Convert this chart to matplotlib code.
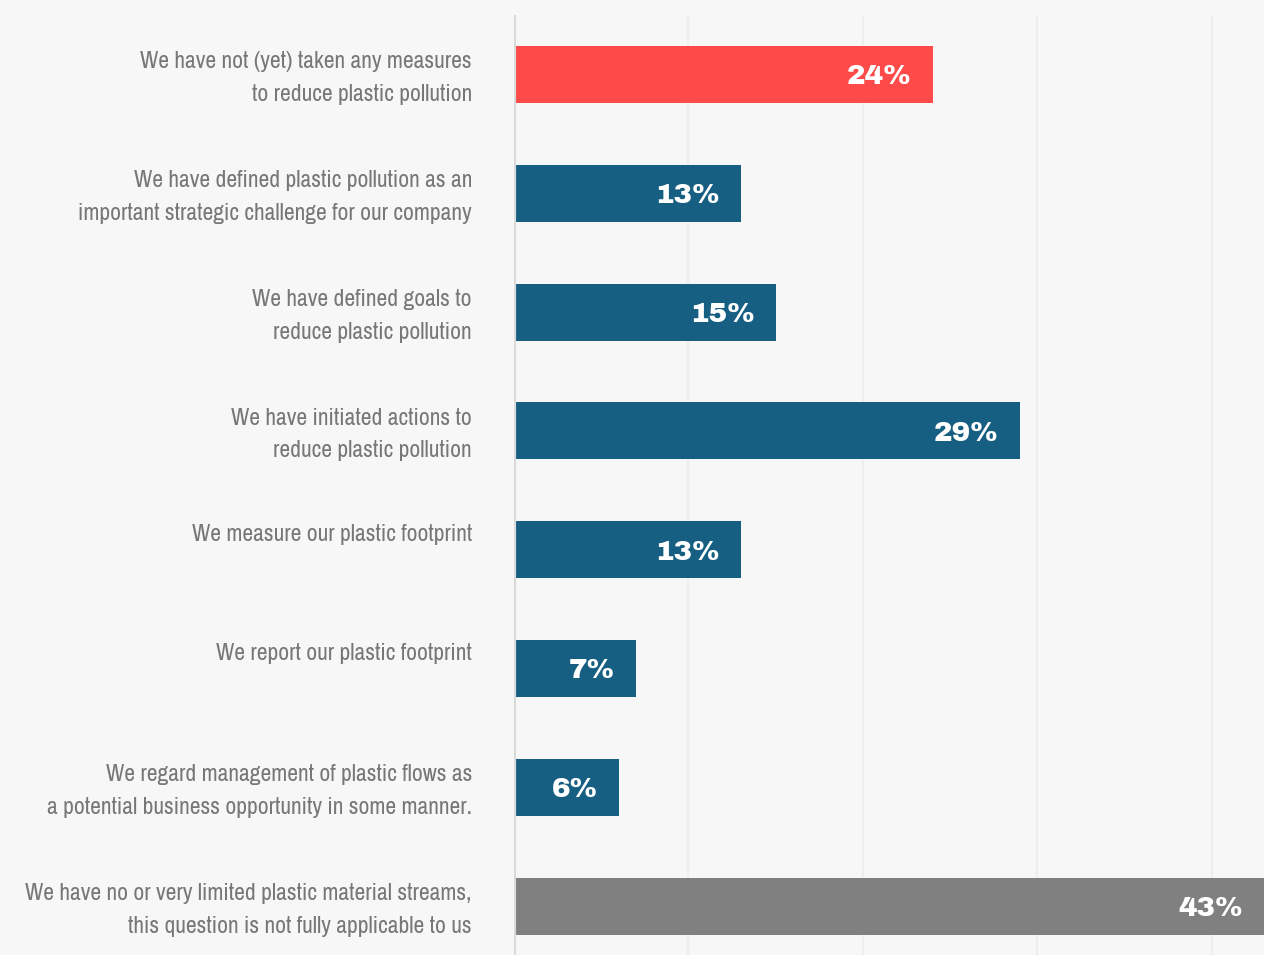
import matplotlib.pyplot as plt

# survey answers, top to bottom
labels = [
    "We have not (yet) taken any measures\nto reduce plastic pollution",
    "We have defined plastic pollution as an\nimportant strategic challenge for our company",
    "We have defined goals to\nreduce plastic pollution",
    "We have initiated actions to\nreduce plastic pollution",
    "We measure our plastic footprint",
    "We report our plastic footprint",
    "We regard management of plastic flows as\na potential business opportunity in some manner.",
    "We have no or very limited plastic material streams,\nthis question is not fully applicable to us",
]
values = [24, 13, 15, 29, 13, 7, 6, 43]
colors = ["#ff4a4a"] + ["#175f82"] * 6 + ["#808080"]

bg = "#f7f7f7"
label_font = dict(family=["Archivo Narrow", "DejaVu Sans"], stretch="condensed", fontweight="medium")
value_font = dict(family=["Archivo Black", "DejaVu Sans"], fontweight="bold")

fig = plt.figure(figsize=(12.64, 9.55), dpi=100, facecolor=bg)
ax = fig.add_axes([514 / 1264, 0, 750 / 1264, 940 / 955], facecolor=bg)

pos = list(range(len(values)))
ax.barh(pos, values, height=0.48, color=colors, zorder=2)
ax.set_xlim(0, 43)
ax.set_ylim(7.41, -0.5)

# faint vertical grid and the light baseline
for x in [10, 20, 30, 40]:
    ax.axvline(x, color="#eeeeee", lw=1.5, zorder=1)
ax.axvline(0, color="#dadada", lw=3, zorder=3)

for p, v in zip(pos, values):
    ax.text(v - 1.2, p + 0.02, f"{v}%", ha="right", va="center", color="white",
            fontsize=20, zorder=4, **value_font)

for p, lab in zip(pos, labels):
    y = p + 0.03 if "\n" in lab else p - 0.125
    ax.text(-2.41, y, lab, ha="right", va="center", color="#777777",
            fontsize=17, linespacing=1.7, **label_font)

for s in ax.spines.values():
    s.set_visible(False)
ax.set_xticks([])
ax.set_yticks([])

fig.savefig("out.png", dpi=100, facecolor=bg)
